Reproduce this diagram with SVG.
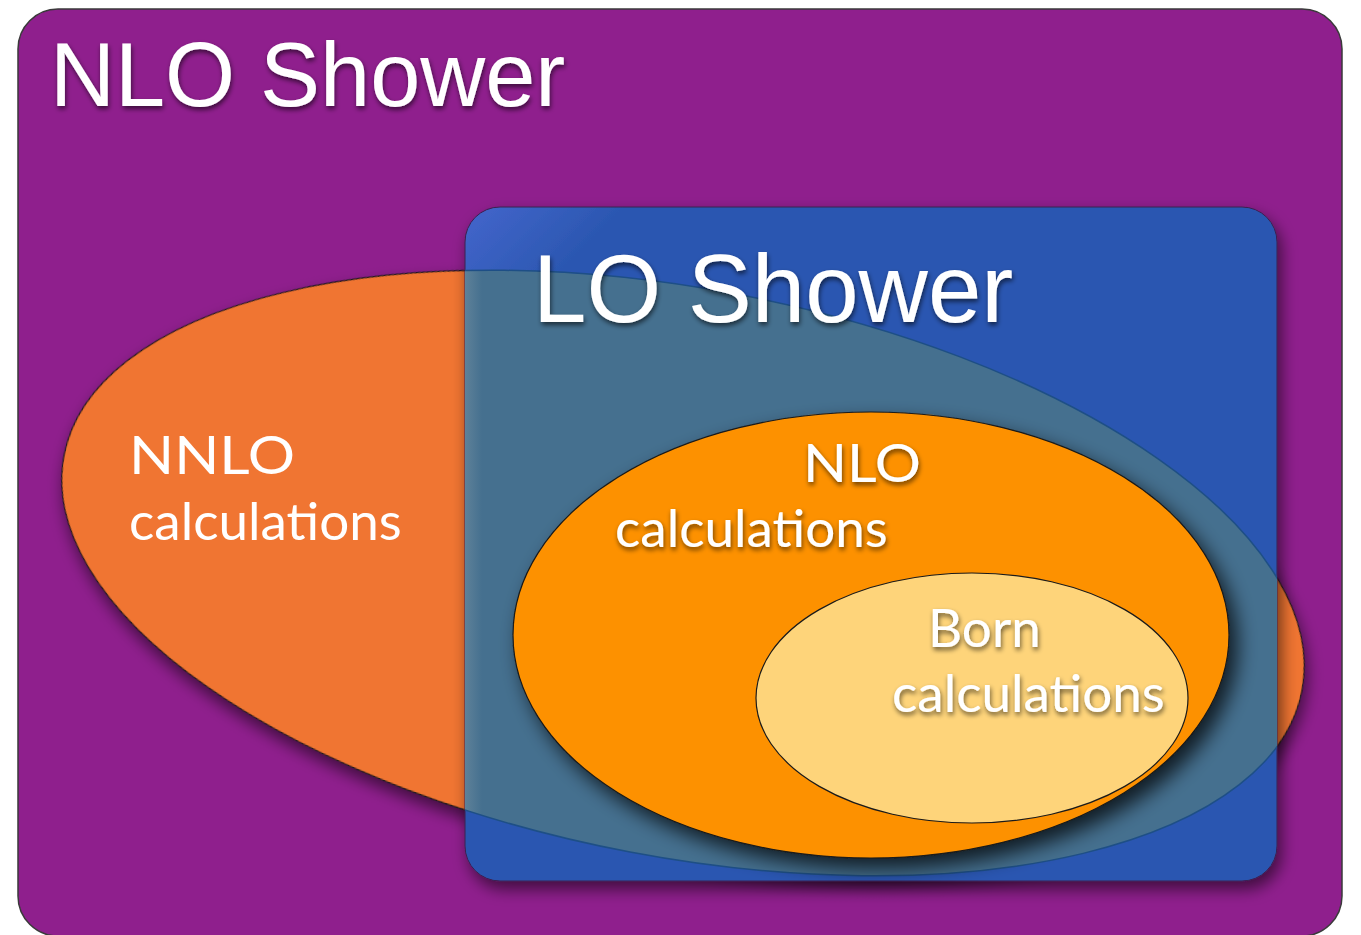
<svg xmlns="http://www.w3.org/2000/svg" width="1361" height="935" viewBox="0 0 1361 935">
<defs>
  <filter id="shadowBig" x="-20%" y="-20%" width="140%" height="140%">
    <feGaussianBlur in="SourceAlpha" stdDeviation="10"/>
    <feOffset dx="8" dy="10" result="b"/>
    <feComponentTransfer><feFuncA type="linear" slope="0.75"/></feComponentTransfer>
    <feMerge><feMergeNode/><feMergeNode in="SourceGraphic"/></feMerge>
  </filter>
  <filter id="shadowSoft" x="-20%" y="-20%" width="140%" height="140%">
    <feGaussianBlur in="SourceAlpha" stdDeviation="8"/>
    <feOffset dx="4" dy="8"/>
    <feComponentTransfer><feFuncA type="linear" slope="0.55"/></feComponentTransfer>
    <feMerge><feMergeNode/><feMergeNode in="SourceGraphic"/></feMerge>
  </filter>
  <filter id="textShadow" x="-10%" y="-30%" width="120%" height="160%">
    <feGaussianBlur in="SourceAlpha" stdDeviation="2.5"/>
    <feOffset dx="1" dy="3"/>
    <feComponentTransfer><feFuncA type="linear" slope="0.6"/></feComponentTransfer>
    <feMerge><feMergeNode/><feMergeNode in="SourceGraphic"/></feMerge>
  </filter>
  <linearGradient id="blueGrad" x1="465" y1="207" x2="545" y2="287" gradientUnits="userSpaceOnUse">
    <stop offset="0" stop-color="#4466CC"/>
    <stop offset="1" stop-color="#2B57B1"/>
  </linearGradient>
  <linearGradient id="overlapGrad" x1="465" y1="0" x2="482" y2="0" gradientUnits="userSpaceOnUse">
    <stop offset="0" stop-color="#5E8199"/>
    <stop offset="1" stop-color="#45708F"/>
  </linearGradient>
  <clipPath id="rectClip">
    <rect x="465" y="207" width="812" height="674" rx="35" ry="35"/>
  </clipPath>
  <clipPath id="nnloClip">
    <ellipse cx="683" cy="573" rx="630" ry="284" transform="rotate(10.75 683 573)"/>
  </clipPath>
  <style>
    .title { font-family: "Liberation Sans", Arial, sans-serif; fill: #ffffff; }
    .label { font-family: Lato, "Open Sans", sans-serif; fill: #ffffff; font-size: 53px; }
    .edge { stroke: #1a1a1a; stroke-width: 1.2; }
  </style>
</defs>

<g id="nlo-shower">
  <rect x="18" y="9" width="1324" height="927" rx="40" ry="40" fill="#8F1F8D" stroke="#3a3a3a" stroke-width="1.5"/>
  <text class="title" x="50" y="106" font-size="90" filter="url(#textShadow)">NLO Shower</text>
</g>

<g id="nnlo-calculations">
  <ellipse cx="683" cy="573" rx="630" ry="284" transform="rotate(10.75 683 573)" fill="#F07533" class="edge" filter="url(#shadowSoft)"/>
  <text class="label" x="129" y="474" textLength="166" lengthAdjust="spacingAndGlyphs">NNLO</text>
  <text class="label" x="129" y="540">calculations</text>
</g>

<g id="lo-shower">
  <rect x="465" y="207" width="812" height="674" rx="35" ry="35" fill="url(#blueGrad)" stroke="#3a2050" stroke-width="1" filter="url(#shadowSoft)"/>
  <g clip-path="url(#rectClip)">
    <rect x="465" y="207" width="812" height="674" fill="url(#overlapGrad)" clip-path="url(#nnloClip)"/>
    <ellipse cx="683" cy="573" rx="630" ry="284" transform="rotate(10.75 683 573)" fill="none" stroke="#1E4F86" stroke-width="1.5"/>
  </g>
  <text class="title" x="533" y="322" font-size="96" filter="url(#textShadow)">LO Shower</text>
</g>

<g id="nlo-calculations">
  <ellipse cx="871" cy="635" rx="358" ry="223" fill="#FD9100" class="edge" filter="url(#shadowBig)"/>
  <text class="label" x="803" y="482" textLength="118" lengthAdjust="spacingAndGlyphs" filter="url(#textShadow)">NLO</text>
  <text class="label" x="615" y="547" filter="url(#textShadow)">calculations</text>
</g>

<g id="born-calculations">
  <ellipse cx="972" cy="698" rx="216" ry="125" fill="#FED47A" class="edge"/>
  <text class="label" x="928" y="647" filter="url(#textShadow)">Born</text>
  <text class="label" x="892" y="712" filter="url(#textShadow)">calculations</text>
</g>

<g id="connectors"></g>
</svg>
